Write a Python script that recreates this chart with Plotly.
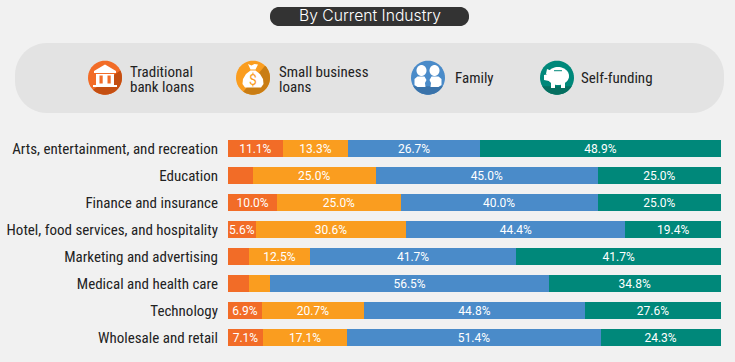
import math
import plotly.graph_objects as go

categories = ["Arts, entertainment, and recreation", "Education", "Finance and insurance",
              "Hotel, food services, and hospitality", "Marketing and advertising",
              "Medical and health care", "Technology", "Wholesale and retail"]
series_names = ["Traditional bank loans", "Small business loans", "Family", "Self-funding"]
bank_loans = [11.1, 5.0, 10.0, 5.6, 4.2, 4.3, 6.9, 7.1]
small_business = [13.3, 25.0, 25.0, 30.6, 12.5, 4.3, 20.7, 17.1]
family = [26.7, 45.0, 40.0, 44.4, 41.7, 56.5, 44.8, 51.4]
self_funding = [48.9, 25.0, 25.0, 19.4, 41.7, 34.8, 27.6, 24.3]
bank_labels = ["11.1%", "", "10.0%", "5.6%", "", "", "6.9%", "7.1%"]
small_labels = ["13.3%", "25.0%", "25.0%", "30.6%", "12.5%", "", "20.7%", "17.1%"]
family_labels = ["26.7%", "45.0%", "40.0%", "44.4%", "41.7%", "56.5%", "44.8%", "51.4%"]
self_labels = ["48.9%", "25.0%", "25.0%", "19.4%", "41.7%", "34.8%", "27.6%", "24.3%"]
colors = ["#f26c27", "#fa9d1f", "#4a8bc9", "#00887a"]
dark = ["#c44f12", "#c97d14", "#3a73aa", "#066f60"]
title_text = "By Current Industry"
legend_lines = [["Traditional", "bank loans"], ["Small business", "loans"], ["Family"], ["Self-funding"]]

W, H = 735, 362
L, R, T, B = 228, 721, 135, 351
NARROW = "Roboto Condensed, Liberation Sans Narrow, Arial Narrow, sans-serif"

def px(x): return (x - L) / (R - L)
def py(y): return 1 - (y - T) / (B - T)
def pt(x, y): return f"{px(x):.5f},{py(y):.5f}"

def poly(points):
    return "M" + " L".join(pt(x, y) for x, y in points) + " Z"

def arc(cx, cy, r, a0, a1, n=48):
    return [(cx + r * math.cos(math.radians(a0 + (a1 - a0) * i / n)),
             cy + r * math.sin(math.radians(a0 + (a1 - a0) * i / n))) for i in range(n + 1)]

def circle(cx, cy, r): return poly(arc(cx, cy, r, 0, 360))
def ell(cx, cy, rx, ry):
    return poly([(cx + rx * math.cos(i * math.pi / 24), cy + ry * math.sin(i * math.pi / 24)) for i in range(48)])

def rrect(x0, y0, x1, y1, r):
    pts = arc(x1 - r, y0 + r, r, -90, 0, 12) + arc(x1 - r, y1 - r, r, 0, 90, 12) + \
          arc(x0 + r, y1 - r, r, 90, 180, 12) + arc(x0 + r, y0 + r, r, 180, 270, 12)
    return poly(pts)

shapes = []
def add(path, color):
    shapes.append(dict(type="path", xref="paper", yref="paper", path=path,
                       fillcolor=color, line=dict(width=0), layer="above"))

def add_below(path, color):
    shapes.append(dict(type="path", xref="paper", yref="paper", path=path,
                       fillcolor=color, line=dict(width=0), layer="below"))

add_below(rrect(270, 7, 469, 26, 9), "#333333")
add_below(rrect(15, 43, 724, 113, 32), "#e3e3e3")

CY = 77.7
IR = 17
# Bank icon
cx = 105
add(circle(cx, CY, IR), colors[0])
add(poly(arc(cx, CY, IR, -25, 135, 40)), dark[0])
add(poly([(cx - 11, 71), (cx, 64.5), (cx + 11, 71), (cx + 11, 73), (cx - 11, 73)]), "white")
add(poly([(cx - 9, 74), (cx + 9, 74), (cx + 9, 85), (cx - 9, 85)]), "white")
for dx in (-5.5, 2.5):
    add(poly([(cx + dx, 75.5), (cx + dx + 3.2, 75.5), (cx + dx + 3.2, 83.5), (cx + dx, 83.5)]), colors[0])
add(poly([(cx - 12, 85), (cx + 12, 85), (cx + 12, 87), (cx - 12, 87)]), "white")

# Money bag icon
cx = 253
add(circle(cx, CY, IR), colors[1])
add(poly(arc(cx, CY, IR, -45, 125, 40)), dark[1])
add(poly([(cx - 5, 64), (cx - 1.5, 65.5), (cx + 1.5, 64), (cx + 5, 64.5), (cx + 2.5, 69.5), (cx - 2.5, 69.5)]), "white")
bag = [(cx - 2.5, 70.5), (cx + 2.5, 70.5), (cx + 7, 74), (cx + 10, 79), (cx + 10.5, 84), (cx + 8, 87.5),
       (cx - 8, 87.5), (cx - 10.5, 84), (cx - 10, 79), (cx - 7, 74)]
add(poly(bag), "white")

# Family icon
cx = 428
add(circle(cx, CY, IR), colors[2])
add(poly(arc(cx, CY, IR, 30, 150, 30)), dark[2])
for sgn in (-1, 1):
    hx = cx + sgn * 6.5
    add(ell(hx, 70.5, 5, 5.5), "white")
    outer, inner = hx + sgn * 7, hx - sgn * 5
    add(poly([(outer, 85), (outer, 79), (hx + sgn * 4, 76.5), (hx - sgn * 3, 76.5), (inner, 80),
              (inner + sgn * 1.5, 83), (inner + sgn * 1, 87), (hx + sgn * 4, 87)]), "white")

# Piggy icon
cx = 557
add(circle(cx, CY, IR), colors[3])
add(poly(arc(cx, CY, IR, 30, 150, 30)), dark[3])
add(ell(cx + 1, 76, 11, 9), "white")
add(poly([(cx - 10, 69), (cx - 5, 71), (cx - 7, 76), (cx - 11, 74)]), "white")
add(poly([(cx - 13, 75), (cx - 8, 74), (cx - 8, 81), (cx - 13, 80)]), "white")
add(poly([(cx - 6, 82), (cx - 2, 82), (cx - 2, 88), (cx - 6, 88)]), "white")
add(poly([(cx + 4, 82), (cx + 8, 82), (cx + 8, 88), (cx + 4, 88)]), "white")
add(poly([(cx - 3, 70.2), (cx + 5, 70.2), (cx + 5, 71.2), (cx - 3, 71.2)]), colors[3])

fig = go.Figure()
series = [bank_loans, small_business, family, self_funding]
labels = [bank_labels, small_labels, family_labels, self_labels]
for name, vals, lab, col in zip(series_names, series, labels, colors):
    fig.add_trace(go.Bar(y=categories, x=vals, name=name, orientation="h",
                         marker=dict(color=col, line=dict(width=0)),
                         text=lab, textposition="inside", insidetextanchor="middle",
                         textangle=0, constraintext="none",
                         textfont=dict(family="Roboto, sans-serif", size=12, color="white"),
                         hoverinfo="x+y"))

annotations = [dict(xref="paper", yref="paper", x=px(369.5), y=py(16), text=title_text, showarrow=False,
                    font=dict(family="Inter, sans-serif", size=15.7, color="white", weight=300),
                    xanchor="center", yanchor="middle"),
               dict(xref="paper", yref="paper", x=px(253), y=py(79.5), text="$", showarrow=False,
                    font=dict(family="Roboto, sans-serif", size=14, color=colors[1]),
                    xanchor="center", yanchor="middle")]
for lines, x in zip(legend_lines, (130, 279.5, 455, 581)):
    ys = [78] if len(lines) == 1 else [71.5, 87]
    for line, y in zip(lines, ys):
        annotations.append(dict(xref="paper", yref="paper", x=px(x), y=py(y), text=line, showarrow=False,
                                align="left", xanchor="left", yanchor="middle", xshift=-2.5,
                                font=dict(family=NARROW, size=15, color="#222222")))

fig.update_layout(
    width=W, height=H, barmode="stack", bargap=0.37, showlegend=False,
    paper_bgcolor="#f1f1f1", plot_bgcolor="#f1f1f1",
    margin=dict(l=L, r=W - R, t=T, b=H - B, autoexpand=False),
    xaxis=dict(range=[0, 100], visible=False, fixedrange=True),
    yaxis=dict(autorange="reversed", showgrid=False, showline=False, zeroline=False, ticks="",
               ticklabelstandoff=9, fixedrange=True,
               tickfont=dict(family=NARROW, size=15, color="#222222")),
    shapes=shapes, annotations=annotations,
)
fig.write_html("out.html", config=dict(displayModeBar=False),
               post_script="document.body.style.margin='0';document.body.style.background='#f1f1f1';document.documentElement.style.overflow='hidden';")
